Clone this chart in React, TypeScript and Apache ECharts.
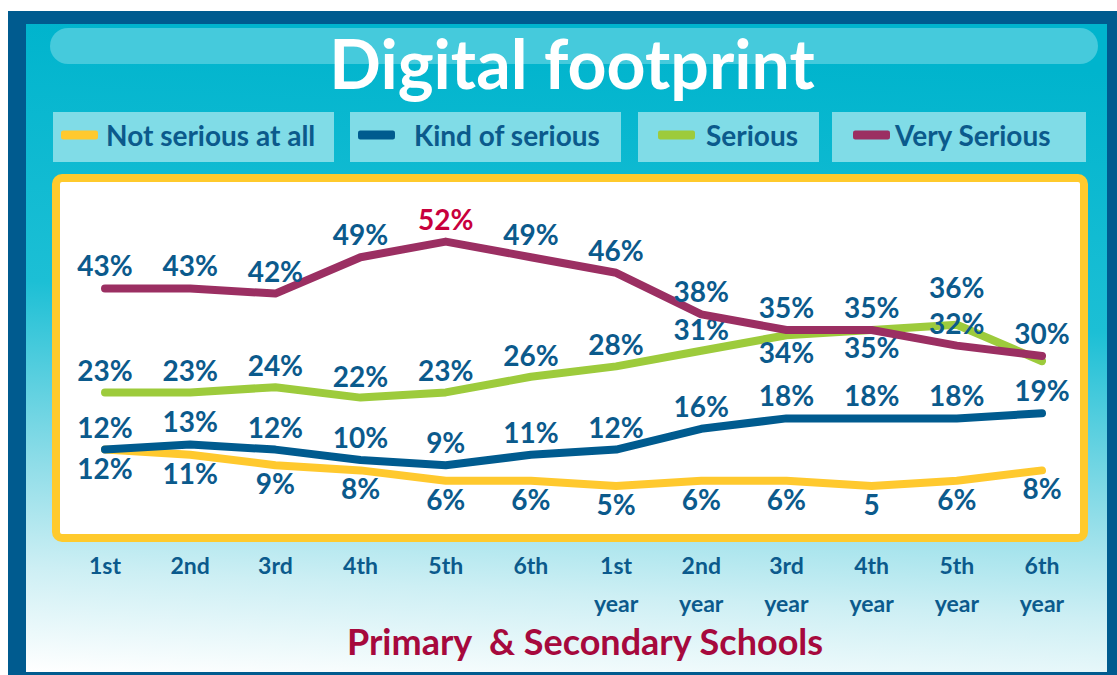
import React, { useEffect, useRef } from "react";
import * as echarts from "echarts";

const categories = ["1st", "2nd", "3rd", "4th", "5th", "6th", "1st\nyear", "2nd\nyear", "3rd\nyear", "4th\nyear", "5th\nyear", "6th\nyear"];
const seriesNames = ["Not serious at all", "Kind of serious", "Serious", "Very Serious"];
const notSerious = [12, 11, 9, 8, 6, 6, 5, 6, 6, 5, 6, 8];
const notSeriousLabels = ["12%", "11%", "9%", "8%", "6%", "6%", "5%", "6%", "6%", "5", "6%", "8%"];
const kindOfSerious = [12, 13, 12, 10, 9, 11, 12, 16, 18, 18, 18, 19];
const kindOfSeriousLabels = ["12%", "13%", "12%", "10%", "9%", "11%", "12%", "16%", "18%", "18%", "18%", "19%"];
const serious = [23, 23, 24, 22, 23, 26, 28, 31, 34, 35, 36, 29];
const seriousLabels = ["23%", "23%", "24%", "22%", "23%", "26%", "28%", "31%", "34%", "35%", "36%", ""];
const verySerious = [43, 43, 42, 49, 52, 49, 46, 38, 35, 35, 32, 30];
const verySeriousLabels = ["43%", "43%", "42%", "49%", "52%", "49%", "46%", "38%", "35%", "35%", "32%", "30%"];

const FONT = "Lato, 'Open Sans', sans-serif";
const LABEL_BLUE = "#0b5a8c";

function buildData(values: number[], labels: string[], place: (i: number) => any) {
  return values.map((v, i) => ({
    value: v,
    label: { formatter: labels[i], show: labels[i] !== "", ...place(i) },
  }));
}

export default function App() {
  const ref = useRef<HTMLDivElement>(null);
  useEffect(() => {
    if (!ref.current) return;
    const chart = echarts.init(ref.current, undefined, { renderer: "svg" });
    const labelBase = {
      show: true,
      color: LABEL_BLUE,
      fontFamily: FONT,
      fontWeight: "bold",
      fontSize: 28,
    };
    const lineSeries = (name: string, color: string, data: any[], z: number) => ({
      name,
      type: "line",
      data,
      z,
      symbol: "circle",
      symbolSize: 2,
      showSymbol: true,
      showAllSymbol: true,
      lineStyle: { color, width: 8, cap: "round", join: "round" },
      itemStyle: { color },
      label: labelBase,
      labelLayout: { hideOverlap: false },
    });
    const legendItem = (name: string, left: number, pad: number) => ({
      data: [name],
      left,
      top: 121,
      padding: 0,
      icon: "roundRect",
      itemWidth: 37,
      itemHeight: 9,
      selectedMode: false,
      textStyle: {
        color: LABEL_BLUE,
        fontFamily: FONT,
        fontWeight: "bold",
        fontSize: 28,
        padding: [0, 0, 0, pad],
      },
    });

    const option: any = {
      animation: false,
      graphic: [
        { type: "rect", z: 0, shape: { x: 8, y: 11, width: 1109, height: 664 }, style: { fill: "#005b8f" } },
        {
          type: "rect",
          z: 0,
          shape: { x: 26, y: 24, width: 1081, height: 648 },
          style: {
            fill: new echarts.graphic.LinearGradient(0.08, 0, 0, 1, [
              { offset: 0, color: "#00b4cd" },
              { offset: 0.4, color: "#1cbfd5" },
              { offset: 0.68, color: "#8fdde8" },
              { offset: 0.84, color: "#cdeff4" },
              { offset: 1, color: "#ffffff" },
            ]),
          },
        },
        { type: "rect", z: 0, shape: { x: 50, y: 28, width: 1048, height: 36, r: 18 }, style: { fill: "#45cadc" } },
        {
          type: "text",
          z: 1,
          x: 572,
          y: 62,
          style: { text: "Digital footprint", fill: "#ffffff", font: `bold 68px ${FONT}`, align: "center", verticalAlign: "middle" },
        },
        { type: "rect", z: 0, shape: { x: 53, y: 112, width: 281, height: 50 }, style: { fill: "#80dce7" } },
        { type: "rect", z: 0, shape: { x: 350, y: 112, width: 271, height: 50 }, style: { fill: "#80dce7" } },
        { type: "rect", z: 0, shape: { x: 638, y: 112, width: 181, height: 50 }, style: { fill: "#80dce7" } },
        { type: "rect", z: 0, shape: { x: 832, y: 112, width: 254, height: 50 }, style: { fill: "#80dce7" } },
        {
          type: "rect",
          z: 0,
          shape: { x: 56, y: 178, width: 1028, height: 360, r: 6 },
          style: { fill: "#ffffff", stroke: "#ffca2c", lineWidth: 8 },
        },
        {
          type: "text",
          z: 1,
          x: 585,
          y: 641,
          style: { text: "Primary  & Secondary Schools", fill: "#a6093d", font: `bold 36px ${FONT}`, align: "center", verticalAlign: "middle" },
        },
      ],
      legend: [
        legendItem(seriesNames[0], 61, 3),
        legendItem(seriesNames[1], 358, 14),
        legendItem(seriesNames[2], 658, 6),
        legendItem(seriesNames[3], 853, 0),
      ],
      grid: { left: 105, right: 75, top: 200, bottom: 163 },
      xAxis: {
        type: "category",
        data: categories,
        boundaryGap: false,
        axisLine: { show: false },
        axisTick: { show: false },
        splitLine: { show: false },
        axisLabel: {
          color: LABEL_BLUE,
          fontFamily: FONT,
          fontWeight: "bold",
          fontSize: 23,
          lineHeight: 38,
          margin: 34,
          verticalAlign: "top",
        },
      },
      yAxis: { type: "value", min: 0, max: 60, show: false, splitLine: { show: false } },
      series: [
        lineSeries(
          seriesNames[0],
          "#ffc92e",
          buildData(notSerious, notSeriousLabels, () => ({ position: "bottom", distance: 3 })),
          2
        ),
        lineSeries(
          seriesNames[1],
          "#005b8f",
          buildData(kindOfSerious, kindOfSeriousLabels, () => ({ position: "top", distance: 8 })),
          3
        ),
        lineSeries(
          seriesNames[2],
          "#9dcb3c",
          buildData(serious, seriousLabels, (i) =>
            i === 8 || i === 9
              ? { position: "bottom", distance: 2 }
              : i === 10
              ? { position: "top", distance: 23 }
              : { position: "top", distance: 7 }
          ),
          4
        ),
        lineSeries(
          seriesNames[3],
          "#9b2f62",
          buildData(verySerious, verySeriousLabels, (i) =>
            i === 4 ? { position: "top", distance: 8, color: "#c8003c" } : { position: "top", distance: 8 }
          ),
          5
        ),
      ],
    };
    chart.setOption(option);
    return () => chart.dispose();
  }, []);
  return <div ref={ref} style={{ position: "fixed", left: 0, top: 0, width: 1117, height: 675, background: "#ffffff" }} />;
}
